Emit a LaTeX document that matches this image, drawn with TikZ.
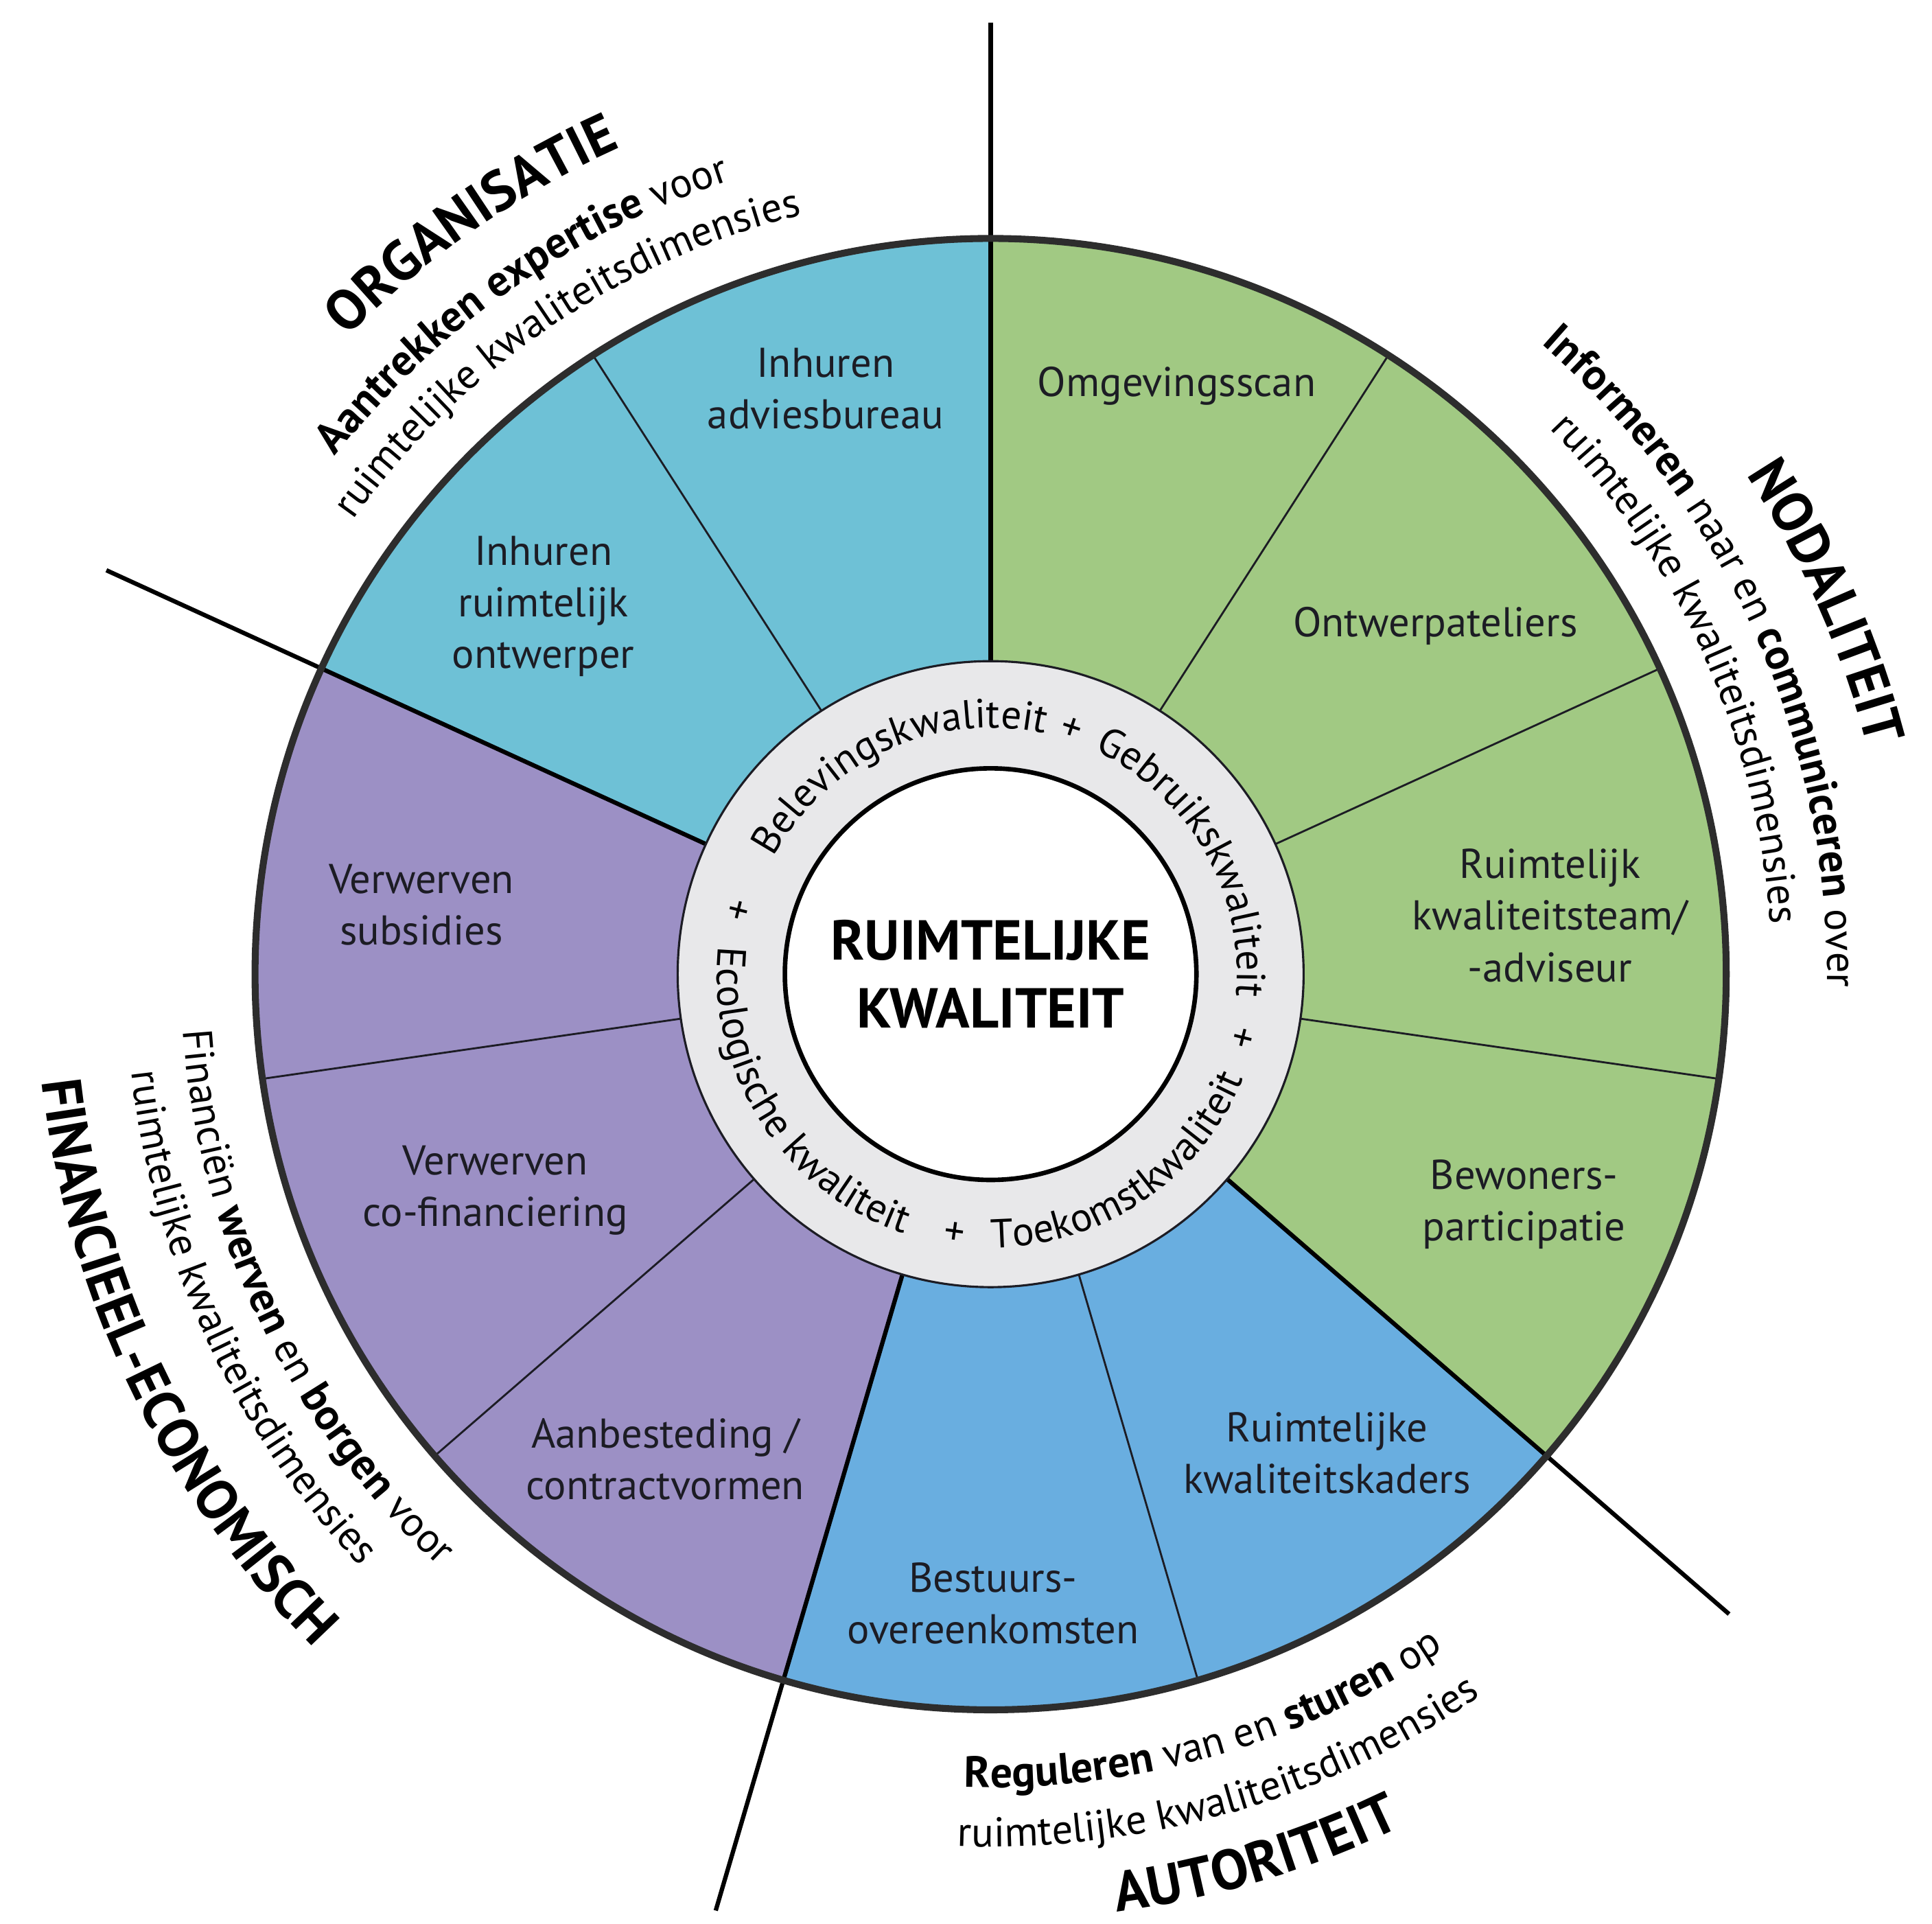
\documentclass[tikz,border=0pt]{standalone}
\usepackage{fontspec}
\setmainfont{PT Sans}
\usepackage{tikz}
\usetikzlibrary{decorations.text,calc}
\definecolor{nodgreen}{HTML}{A1C983}
\definecolor{autblue}{HTML}{69AEE0}
\definecolor{finpurple}{HTML}{9C90C5}
\definecolor{orgcyan}{HTML}{6EC1D6}
\definecolor{ringgray}{HTML}{E8E8EA}
\definecolor{ink}{HTML}{1C1C24}
\definecolor{rimgray}{HTML}{2D2D2D}
\tikzset{>=latex}
\tikzset{
  thinline/.style={line width=0.45pt, draw=ink},
  mainline/.style={line width=1.0pt, draw=black},
  rim/.style={line width=1.6pt, draw=rimgray},
  item/.style={align=center, text=ink, font=\fontsize{9.6}{11.9}\selectfont},
  core/.style={circle, draw=black, line width=1.05pt, fill=white, minimum size=3.34cm,
    inner sep=0pt, align=center, font=\fontsize{13}{15.6}\selectfont\bfseries},
}
\newcommand{\subrm}{\fontsize{9.6}{11}\selectfont\mdseries}
\newcommand{\subbf}{\fontsize{10.1}{11}\selectfont\bfseries}
\newcommand{\titlebf}{\fontsize{13}{15}\selectfont\bfseries}
\newcommand{\ringrm}{\fontsize{9.4}{11}\selectfont\mdseries}
% start angle, end angle, radius, text (centred on the arc)
\newcommand{\arctext}[4]{%
  \path[decorate, decoration={text along path, text align=center, text={#4}}]
    (#1:#3) arc[start angle=#1, end angle=#2, radius=#3];}

\begin{document}
\begin{tikzpicture}
  \useasboundingbox (-8.04,-7.705) rectangle (7.64,7.905);

  % eleven instrument sectors
  \foreach \i/\col in {0/nodgreen,1/nodgreen,2/nodgreen,3/nodgreen,4/autblue,5/autblue,
      6/finpurple,7/finpurple,8/finpurple,9/orgcyan,10/orgcyan}{
    \pgfmathsetmacro{\a}{90-\i*360/11}
    \pgfmathsetmacro{\b}{90-(\i+1)*360/11}
    \fill[\col] (0,0) -- (\a:5.97) arc[start angle=\a, end angle=\b, radius=5.97] -- cycle;
  }

  % thin dividers inside a tool family
  \foreach \i in {1,2,3,5,7,8,10}
    \draw[thinline] ({90-\i*360/11}:2.54) -- ({90-\i*360/11}:5.97);

  % family dividers
  \foreach \i/\len in {0/7.72,4/7.93,6/7.92,9/7.89}
    \draw[mainline] ({90-\i*360/11}:2.54) -- ({90-\i*360/11}:\len);

  % outer rim
  \draw[rim] (0,0) circle[radius=5.97];

  % quality ring
  \draw[line width=0.5pt, draw=ink, fill=ringgray] (0,0) circle[radius=2.54];
  \node[core] (kern) at (0,0) {RUIMTELIJKE\\KWALITEIT};
  \arctext{174.5}{54.5}{2.0}{|\ringrm|Belevingskwaliteit}
  \arctext{81.7}{61.7}{2.0}{|\ringrm|+}
  \arctext{90}{-30}{2.0}{|\ringrm|Gebruikskwaliteit}
  \arctext{-4.2}{-24.2}{2.0}{|\ringrm|+}
  \arctext{155.8}{175.8}{2.22}{|\ringrm|+}
  \arctext{152.9}{272.9}{2.22}{|\ringrm|Ecologische kwaliteit}
  \arctext{252.1}{272.1}{2.22}{|\ringrm|+}
  \arctext{243.9}{363.9}{2.22}{|\ringrm|Toekomstkwaliteit}

  % nodaliteit
  \node[item] (omgeving) at (1.51,4.775) {Omgevingsscan};
  \node[item] (ontwerp) at (3.61,2.825) {Ontwerpateliers};
  \node[item] (kwalteam) at (4.54,0.475) {Ruimtelijk\\kwaliteitsteam/\\-adviseur};
  \node[item] (bewoners) at (4.33,-1.87) {Bewoners-\\participatie};
  \arctext{54}{-6}{7.35}{|\titlebf|NODALITEIT}
  \arctext{54}{-6}{6.79}{|\subbf|Informeren |\subrm|naar en |\subbf|communiceren |\subrm|over}
  \arctext{54}{-6}{6.34}{|\subrm|ruimtelijke kwaliteitsdimensies}

  % autoriteit
  \node[item] (kaders) at (2.73,-3.885) {Ruimtelijke\\kwaliteitskaders};
  \node[item] (bestuur) at (0.02,-5.105) {Bestuurs-\\overeenkomsten};
  \arctext{256.7}{316.7}{7.68}{|\titlebf|AUTORITEIT}
  \arctext{256}{316}{7.08}{|\subrm|ruimtelijke kwaliteitsdimensies}
  \arctext{256}{316}{6.6}{|\subbf|Reguleren |\subrm|van en |\subbf|sturen |\subrm|op}

  % financieel-economisch
  \node[item] (aanbest) at (-2.64,-3.935) {Aanbesteding /\\contractvormen};
  \node[item] (cofin) at (-4.02,-1.755) {Verwerven\\co-financiering};
  \node[item] (subsidie) at (-4.62,0.565) {Verwerven\\subsidies};
  \arctext{175.65}{235.65}{7.75}{|\titlebf|FINANCIEEL-ECONOMISCH}
  \arctext{174.85}{234.85}{7.02}{|\subrm|ruimtelijke kwaliteitsdimensies}
  \arctext{175.5}{235.5}{6.57}{|\subrm|Financiën |\subbf|werven |\subrm|en |\subbf|borgen |\subrm|voor}

  % organisatie
  \node[item] (ontwerper) at (-3.63,2.985) {Inhuren\\ruimtelijk\\ontwerper};
  \node[item] (advies) at (-1.34,4.75) {Inhuren\\adviesbureau};
  \arctext{154.7}{94.7}{7.35}{|\titlebf|ORGANISATIE}
  \arctext{154.95}{94.95}{6.78}{|\subbf|Aantrekken expertise |\subrm|voor}
  \arctext{154.25}{94.25}{6.35}{|\subrm|ruimtelijke kwaliteitsdimensies}
\end{tikzpicture}
\end{document}
